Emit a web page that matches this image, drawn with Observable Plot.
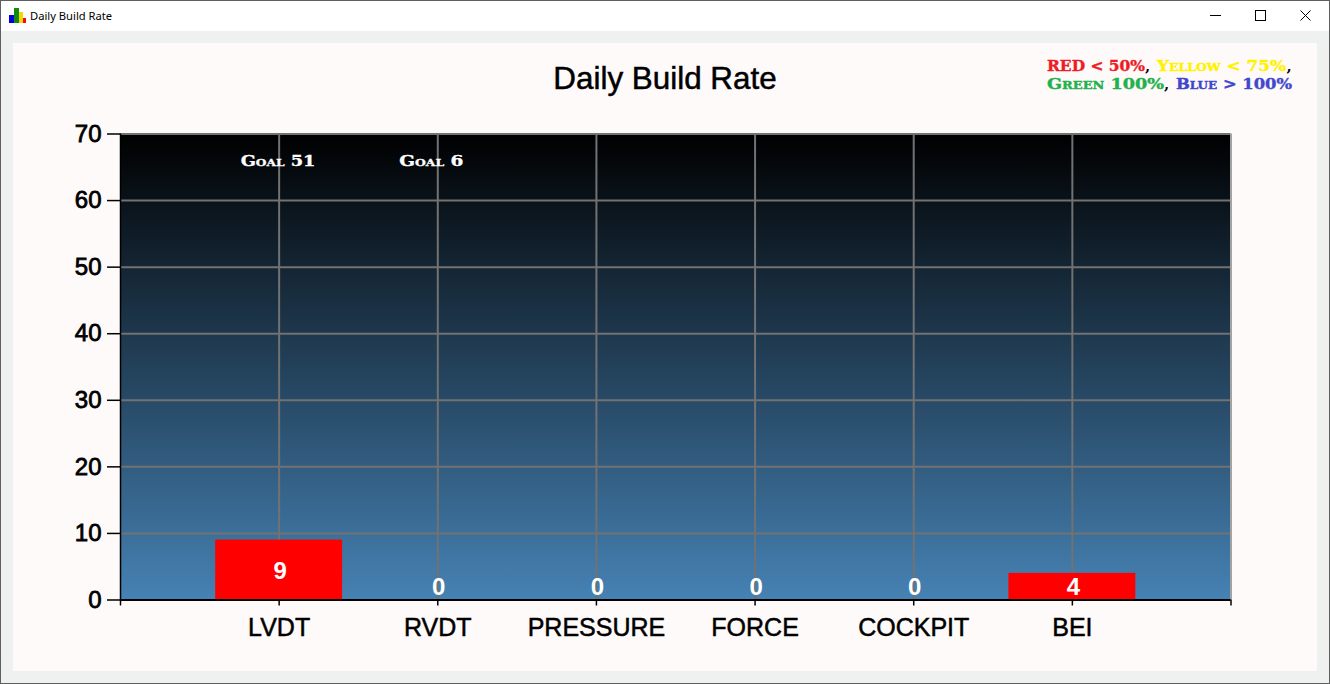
<!DOCTYPE html>
<html>
<head>
<meta charset="utf-8">
<title>Daily Build Rate</title>
<script src="https://cdn.jsdelivr.net/npm/d3@7"></script>
<script src="https://cdn.jsdelivr.net/npm/@observablehq/plot@0.6"></script>
<style>
html,body{margin:0;padding:0;width:1330px;height:684px;overflow:hidden;background:#f0f0f0}
#win{position:absolute;left:0;top:0;width:1328px;height:682px;border:1px solid #5f5f5f;background:#eff0f0;overflow:hidden}
#bar{position:absolute;left:0;top:0;width:1328px;height:30px;background:#fff}
#cap{position:absolute;left:29px;top:7px;font:11.2px/16px "Noto Sans","Open Sans",sans-serif;color:#000}
.ib{position:absolute;bottom:0}
#icon{position:absolute;left:8px;top:7px;width:17px;height:15px}
.wb{position:absolute;background:#000}
#panel{position:absolute;left:12px;top:42px;width:1304px;height:628px;background:#fffafa}
#title{position:absolute;left:0;top:60px;width:1330px;text-align:center;font:31.4px/38px "Liberation Sans",Arial,sans-serif;color:#000;-webkit-text-stroke:.5px #000}
.lg{position:absolute;left:1047px;font:bold 15px/18px "DejaVu Serif",serif;font-variant:small-caps;white-space:nowrap;color:#000}
.lg span{-webkit-text-stroke:.4px currentColor}
.lg span + span{margin-left:2px}
#chart{position:absolute;left:0;top:0;width:1330px;height:684px}
#chart svg{display:block;background:transparent}
</style>
</head>
<body>
<div id="win">
  <div id="bar"></div>
  <div id="icon">
    <div class="ib" style="left:0;width:5px;height:8px;background:#0000e0"></div>
    <div class="ib" style="left:5px;width:5px;height:15px;background:#128a12"></div>
    <div class="ib" style="left:10px;width:4px;height:11px;background:#f5d800"></div>
    <div class="ib" style="left:14px;width:3px;height:5px;background:#f01010"></div>
  </div>
  <div id="cap">Daily Build Rate</div>
  <div class="wb" style="left:1209px;top:14px;width:11px;height:1px"></div>
  <div style="position:absolute;left:1254px;top:9px;width:9px;height:9px;border:1px solid #000"></div>
  <svg style="position:absolute;left:1299px;top:9px" width="11" height="11"><path d="M.5 .5L10.5 10.5M10.5 .5L.5 10.5" stroke="#000" stroke-width="1" fill="none"/></svg>
  <div id="panel"></div>
</div>
<div id="title">Daily Build Rate</div>
<div class="lg" style="top:57px"><span data-w="98" style="color:#ed1c24">RED &lt; 50%</span>, <span data-w="129" style="color:#fff200">Yellow &lt; 75%</span>,</div>
<div class="lg" style="top:75px"><span data-w="117" style="color:#22b14c">Green 100%</span>, <span data-w="116" style="color:#3f48cc">Blue &gt; 100%</span></div>
<div id="chart"></div>
<script>
const categories = ["LVDT", "RVDT", "PRESSURE", "FORCE", "COCKPIT", "BEI"];
const builds = [9, 0, 0, 0, 0, 4];
const barColors = ["#ff0000", "#ff0000", "#ff0000", "#ff0000", "#ff0000", "#ff0000"];
const goalNames = ["LVDT", "RVDT"];
const goalLabels = ["Goal 51", "Goal 6"];
const yTicks = [0, 10, 20, 30, 40, 50, 60, 70];
const xPositions = [0, 1, 2, 3, 4, 5, 6, 7];

const rows = categories.map((name, i) => ({name, pos: i + 1, value: builds[i], color: barColors[i]}));
const goals = goalLabels.map((label, i) => ({label, pos: categories.indexOf(goalNames[i]) + 1}));
const FONT = '"Liberation Sans", Arial, sans-serif';

const gradient = () => {
  const ns = "http://www.w3.org/2000/svg";
  const defs = document.createElementNS(ns, "defs");
  const g = document.createElementNS(ns, "linearGradient");
  g.setAttribute("id", "plotBg");
  g.setAttribute("x1", "0"); g.setAttribute("y1", "0");
  g.setAttribute("x2", "0"); g.setAttribute("y2", "1");
  [["0%", "#000000"], ["100%", "#4682b4"]].forEach(([o, c]) => {
    const s = document.createElementNS(ns, "stop");
    s.setAttribute("offset", o); s.setAttribute("stop-color", c);
    g.appendChild(s);
  });
  defs.appendChild(g);
  return defs;
};

const chart = Plot.plot({
  width: 1330,
  height: 684,
  marginLeft: 120,
  marginRight: 99.5,
  marginTop: 133.5,
  marginBottom: 84.5,
  style: {background: "transparent", fontFamily: FONT, overflow: "visible"},
  x: {type: "linear", domain: [0, 7]},
  y: {type: "linear", domain: [0, 70]},
  marks: [
    gradient,
    Plot.frame({fill: "url(#plotBg)", stroke: "none"}),
    Plot.gridX(xPositions.slice(1, 7), {stroke: "#727272", strokeOpacity: 1, strokeWidth: 2}),
    Plot.gridY(yTicks, {stroke: "#727272", strokeOpacity: 1, strokeWidth: 2}),
    Plot.ruleX([7], {stroke: "#a3a3a3", strokeWidth: 2}),
    Plot.rectY(rows, {x1: d => d.pos - 0.4, x2: d => d.pos + 0.4, y1: 0, y2: "value", fill: "color", inset: 0}),
    Plot.ruleX([0], {stroke: "#000", strokeWidth: 1.5}),
    Plot.ruleY([0], {stroke: "#000", strokeWidth: 2}),
    Plot.axisY({ticks: yTicks, tickSize: 13, tickPadding: 6, fontSize: 24, stroke: "#000", strokeWidth: 1.5, fill: "#000", label: null, tickFormat: d => String(d)}),
    Plot.axisX({ticks: xPositions, tickSize: 6, tickPadding: 12, fontSize: 25, stroke: "#000", strokeWidth: 1.5, fill: "#000", label: null, tickFormat: d => categories[d - 1] ?? ""}),
    Plot.text(rows, {x: "pos", y: d => Math.max(d.value / 2, 2), dx: 1, dy: 1, text: d => String(d.value), fill: "#fff", fontSize: 24, fontWeight: "bold", lineAnchor: "middle"}),
    Plot.text(goals, {x: "pos", y: 66, dx: -38.5, dy: 1, text: "label", fill: "#fff", textAnchor: "start", fontSize: 14, fontWeight: "bold", fontFamily: '"DejaVu Serif", serif', fontVariant: "small-caps", lineAnchor: "middle"})
  ]
});
document.getElementById("chart").appendChild(chart);

// Reference renders axis labels semi-bold and the goal labels in a wide face.
d3.select(chart).selectAll("text").each(function () {
  const t = d3.select(this);
  const p = this.closest("g[aria-label]");
  const a = p ? p.getAttribute("aria-label") : "";
  if (goalLabels.includes(t.text())) {
    const widths = {"Goal 51": 76, "Goal 6": 66};
    const scale = widths[t.text()] / this.getComputedTextLength();
    t.attr("transform", (t.attr("transform") || "") + " scale(" + scale + ",1)").style("stroke", "#fff").style("stroke-width", "0.3px");
  } else if (a === "y-axis tick label") {
    t.style("stroke", "#000").style("stroke-width", "0.8px");
  } else if (a === "x-axis tick label") {
    t.style("stroke", "#000").style("stroke-width", "0.5px");
  }
});

// Fit the substitute wide small-caps font to the reference's word widths.
document.querySelectorAll(".lg span").forEach(el => {
  el.style.display = "inline-block";
  const natural = el.getBoundingClientRect().width;
  const w = +el.dataset.w;
  el.style.width = w + "px";
  el.style.transformOrigin = "0 0";
  el.style.transform = "scaleX(" + (w / natural) + ")";
});
</script>
</body>
</html>
